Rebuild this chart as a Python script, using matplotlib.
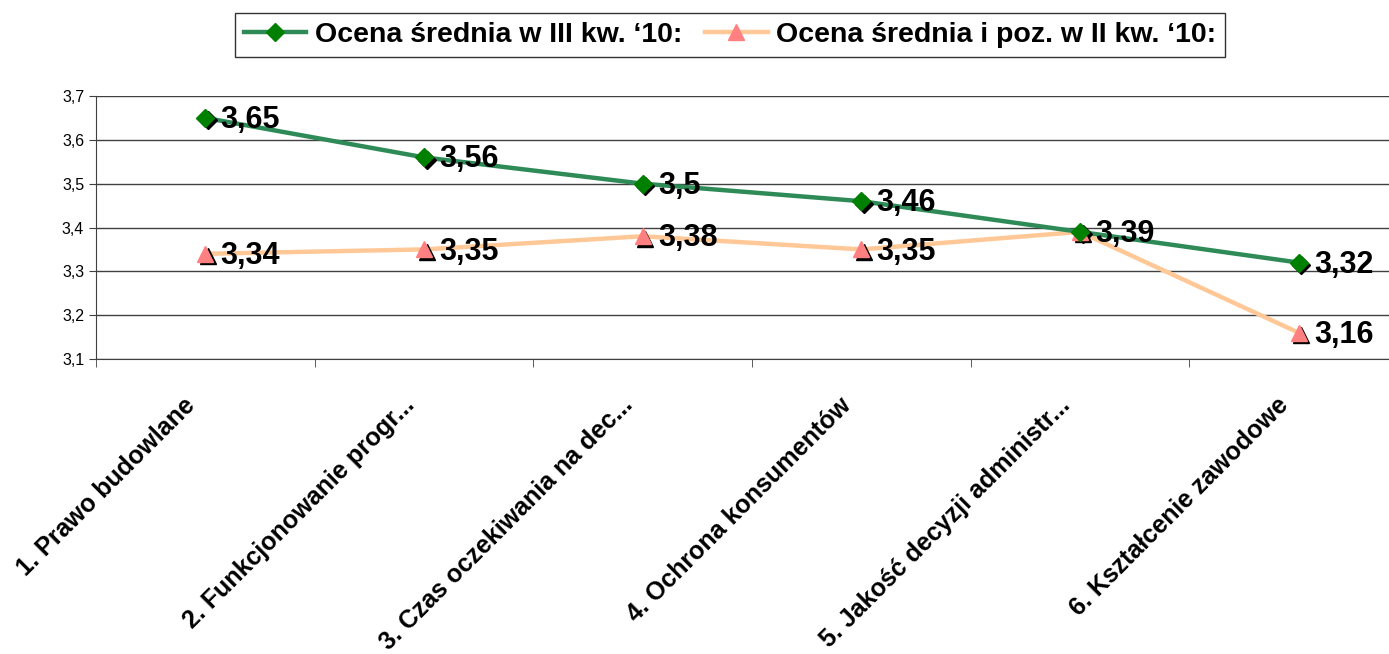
import numpy as np
import matplotlib.pyplot as plt
import matplotlib.transforms as mtransforms
from matplotlib.ticker import FuncFormatter

plt.rcParams['font.family'] = ['Liberation Sans', 'DejaVu Sans']

# Dane
kategorie = ["1. Prawo budowlane", "2. Funkcjonowanie progr...", "3. Czas oczekiwania na dec...",
             "4. Ochrona konsumentów", "5. Jakość decyzji administr...", "6. Kształcenie zawodowe"]
ocena_iii_kw = [3.65, 3.56, 3.50, 3.46, 3.39, 3.32]
ocena_ii_kw = [3.34, 3.35, 3.38, 3.35, 3.39, 3.16]
etykiety_iii = ["3,65", "3,56", "3,5", "3,46", "3,39", "3,32"]
etykiety_ii = ["3,34", "3,35", "3,38", "3,35", "", "3,16"]
nazwa_iii = "Ocena średnia w III kw. \u201810:"
nazwa_ii = "Ocena średnia i poz. w II kw. \u201810:"

x = np.arange(len(kategorie))

fig = plt.figure(figsize=(13.89, 6.54), dpi=100)
ax = fig.add_axes([96 / 1389, 1 - 359 / 654, 1312 / 1389, 263 / 654])

# cień markerów (przesunięty o kilka px)
cien = mtransforms.offset_copy(ax.transData, fig=fig, x=2.5, y=-2.5, units='dots')

ax.plot(x, ocena_ii_kw, color='#FFC896', lw=3.2, zorder=3)
ax.plot(x, ocena_ii_kw, ls='none', marker='^', ms=12, color='black', transform=cien, zorder=4)
ax.plot(x, ocena_ii_kw, ls='none', marker='^', ms=12, color='#FF8080', zorder=5)

ax.plot(x, ocena_iii_kw, color='#2E8B57', lw=3.2, zorder=3)
ax.plot(x, ocena_iii_kw, ls='none', marker='D', ms=9, color='black', transform=cien, zorder=4)
ax.plot(x, ocena_iii_kw, ls='none', marker='D', ms=9, color='#008000', zorder=5)

for xi, yi, t in zip(x, ocena_iii_kw, etykiety_iii):
    ax.annotate(t, (xi, yi), xytext=(11, -1.5), textcoords='offset points',
                ha='left', va='center', fontsize=22, fontweight='bold', zorder=6)
for xi, yi, t in zip(x, ocena_ii_kw, etykiety_ii):
    if t:
        ax.annotate(t, (xi, yi), xytext=(11, -1.5), textcoords='offset points',
                    ha='left', va='center', fontsize=22, fontweight='bold', zorder=6)

ax.set_xlim(-0.5, len(kategorie) - 0.5)
ax.set_ylim(3.1, 3.7)
ax.set_yticks(np.arange(3.1, 3.71, 0.1))
ax.yaxis.set_major_formatter(FuncFormatter(lambda v, p: f"{v:.1f}".replace('.', ',')))
ax.grid(axis='y', color='#404040', lw=1)
ax.set_axisbelow(True)

# etykiety kategorii pod osią, obrócone o 45 stopni
ax.set_xticks(x)
ax.set_xticklabels([])
tr_etyk = mtransforms.offset_copy(ax.get_xaxis_transform(), fig=fig, x=-22, y=-34, units='dots')
for xi, nazwa in zip(x, kategorie):
    ax.text(xi, 0, nazwa, transform=tr_etyk, rotation=45, ha='right', va='top',
            rotation_mode='anchor', fontsize=18, fontweight='bold', clip_on=False)
ax.set_xticks(np.arange(len(kategorie) + 1) - 0.5, minor=True)
ax.tick_params(axis='x', which='major', length=0)
ax.tick_params(axis='x', which='minor', length=6, color='#404040')
ax.tick_params(axis='y', length=5, labelsize=11.5, color='#404040')

for s in ['top', 'right']:
    ax.spines[s].set_visible(False)
ax.spines['left'].set_color('#404040')
ax.spines['bottom'].set_color('#404040')

h1 = plt.Line2D([], [], color='#2E8B57', lw=3.2, marker='D', ms=9, mfc='#008000', mec='#008000')
h2 = plt.Line2D([], [], color='#FFC896', lw=3.2, marker='^', ms=12, mfc='#FF8080', mec='#FF8080')
leg = fig.legend([h1, h2], [nazwa_iii, nazwa_ii], loc='center', bbox_to_anchor=(730 / 1389, 1 - 35 / 654),
                 ncol=2, frameon=True, fancybox=False, edgecolor='black',
                 prop={'weight': 'bold', 'size': 20.5}, handlelength=2.2, handletextpad=0.3,
                 columnspacing=0.8, borderpad=0.3)
leg.get_frame().set_linewidth(1)

fig.savefig("out.png", dpi=100)
